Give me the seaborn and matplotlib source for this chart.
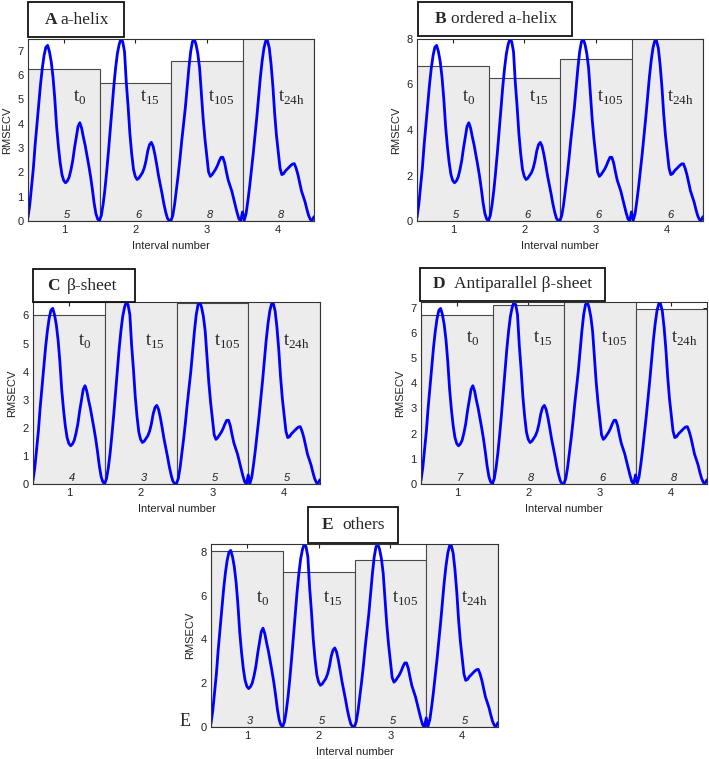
import numpy as np
import pandas as pd
import matplotlib
matplotlib.use("Agg")
import matplotlib.pyplot as plt
import matplotlib.transforms as mtransforms
from matplotlib.patches import Rectangle
import seaborn as sns

# ==============================
# DATA
# ==============================
intervals = [1, 2, 3, 4]
time_labels = [r"$\mathrm{t}_{\mathrm{0}}$", r"$\mathrm{t}_{\mathrm{15}}$",
               r"$\mathrm{t}_{\mathrm{105}}$", r"$\mathrm{t}_{\mathrm{24h}}$"]

# mean spectrum in each interval (fraction of panel top)
dx = np.linspace(0, 1, 41)
shape_t0 = [0.02, 0.09, 0.19, 0.29, 0.42, 0.53, 0.64, 0.75, 0.84, 0.91,
            0.955, 0.965, 0.93, 0.875, 0.79, 0.67, 0.52, 0.41, 0.32, 0.255,
            0.222, 0.21, 0.22, 0.24, 0.28, 0.33, 0.40, 0.46, 0.52, 0.54,
            0.51, 0.46, 0.415, 0.36, 0.305, 0.245, 0.175, 0.098, 0.04, 0.01,
            0.003]
shape_t15 = [0.003, 0.03, 0.09, 0.17, 0.27, 0.38, 0.50, 0.62, 0.74, 0.84,
             0.92, 0.97, 1.0, 0.985, 0.93, 0.76, 0.63, 0.48, 0.37, 0.285,
             0.245, 0.228, 0.235, 0.25, 0.265, 0.29, 0.33, 0.385, 0.42, 0.432,
             0.41, 0.365, 0.31, 0.25, 0.2, 0.15, 0.095, 0.05, 0.015, 0.002,
             0.003]
shape_t105 = [0.003, 0.03, 0.09, 0.17, 0.25, 0.34, 0.44, 0.53, 0.62, 0.73,
              0.84, 0.93, 0.985, 1.0, 0.97, 0.92, 0.84, 0.70, 0.56, 0.45,
              0.36, 0.27, 0.245, 0.255, 0.27, 0.285, 0.305, 0.33, 0.35, 0.35,
              0.32, 0.27, 0.225, 0.195, 0.165, 0.125, 0.085, 0.045, 0.012, 0.0,
              0.05]
shape_t24h = [0.05, 0.005, 0.04, 0.11, 0.19, 0.28, 0.37, 0.47, 0.57, 0.68,
              0.79, 0.88, 0.95, 0.99, 0.99, 0.95, 0.86, 0.74, 0.59, 0.47,
              0.38, 0.29, 0.255, 0.26, 0.275, 0.285, 0.295, 0.305, 0.313, 0.315,
              0.29, 0.255, 0.21, 0.165, 0.135, 0.105, 0.065, 0.03, 0.008, 0.005,
              0.024]
shapes = [shape_t0, shape_t15, shape_t105, shape_t24h]

panel_letters = ["A", "B", "C", "D", "E"]
panel_names = ["a-helix", "ordered a-helix", "\u03b2-sheet",
               "Antiparallel \u03b2-sheet", "others"]
y_top = [7.48, 8.0, 6.48, 7.22, 8.36]
y_step = [1, 2, 1, 1, 2]

rmsecv_A = [6.25, 5.66, 6.58, 7.6]
rmsecv_B = [6.81, 6.27, 7.11, 8.2]
rmsecv_C = [6.0, 6.6, 6.45, 6.6]
rmsecv_D = [6.72, 7.11, 7.4, 6.96]
rmsecv_E = [8.02, 7.06, 7.61, 8.5]
rmsecv = [rmsecv_A, rmsecv_B, rmsecv_C, rmsecv_D, rmsecv_E]

lv_A = [5, 6, 8, 8]
lv_B = [5, 6, 6, 6]
lv_C = [4, 3, 5, 5]
lv_D = [7, 8, 6, 8]
lv_E = [3, 5, 5, 5]
n_lv = [lv_A, lv_B, lv_C, lv_D, lv_E]

# ==============================
# LAYOUT (pixels of the 709x759 picture)
# ==============================
W, H = 709, 759
axes_px = [(28, 39, 314, 221), (417, 39, 703, 221), (33, 302, 320, 484),
           (421, 302, 707, 484), (211, 544, 498, 727)]
title_px = [(28, 2, 124, 37), (418, 2, 572, 36), (33, 269, 135, 302),
            (420, 268, 605, 301), (308, 507, 398, 543)]
title_text_x = [(45, 60), (435, 451), (47, 67), (433, 454), (322, 342)]
t_label_y = [0.675, 0.676, 0.78, 0.80, 0.70]
t_label_dx = [0.63, 0.56, 0.52, 0.49]

sns.set_style("white")
plt.rcParams["font.family"] = ["Liberation Sans", "DejaVu Sans"]
plt.rcParams["mathtext.fontset"] = "custom"
plt.rcParams["mathtext.rm"] = "Liberation Serif"
serif = ["Liberation Serif", "DejaVu Serif"]

fig = plt.figure(figsize=(W / 100, H / 100), dpi=100)

for p in range(5):
    l, t, r, b = axes_px[p]
    ax = fig.add_axes([l / W, 1 - b / H, (r - l) / W, (b - t) / H])

    sns.barplot(x=intervals, y=rmsecv[p], native_scale=True, width=1.0,
                color="#ececec", saturation=1, edgecolor="#484848",
                linewidth=0.8, errorbar=None, ax=ax)

    xs, ys = [], []
    for k, sh in zip(intervals, shapes):
        xs += list(k - 0.5 + dx)
        ys += [v * y_top[p] for v in sh]
    curve = pd.DataFrame({"x": xs, "y": ys})
    sns.lineplot(data=curve, x="x", y="y", estimator=None, sort=False,
                 color="#0000ff", linewidth=2.0, ax=ax)

    ax.set_xlim(0.5, 4.5)
    ax.set_ylim(0, y_top[p])
    ax.set_xticks(intervals)
    ax.set_xticklabels([str(k) for k in intervals])
    ax.set_yticks(np.arange(0, y_top[p] + 0.01, y_step[p]))
    ax.tick_params(direction="in", length=3, top=True, right=True,
                   labelsize=8, pad=3, colors="#222222")
    for s in ax.spines.values():
        s.set_color("#333333")
        s.set_linewidth(0.8)
    ax.set_xlabel("Interval number", fontsize=8, labelpad=4, color="#222222")
    ax.set_ylabel("RMSECV", fontsize=8, labelpad=4, color="#222222")

    trans = mtransforms.blended_transform_factory(ax.transData, ax.transAxes)
    for k, lv, lab, off in zip(intervals, n_lv[p], time_labels, t_label_dx):
        ax.text(k + 0.04, 0.035, str(lv), transform=trans, ha="center",
                va="center", fontsize=8, style="italic", color="#222222")
        ax.text(k - 0.5 + off, t_label_y[p], lab, transform=trans,
                ha="left", va="center", fontsize=13.5)

    # title box
    l, t, r, b = title_px[p]
    fig.add_artist(Rectangle((l / W, 1 - b / H), (r - l) / W, (b - t) / H,
                             transform=fig.transFigure, fill=False,
                             edgecolor="#111111", linewidth=1.3))
    yc = 1 - (t + b) / 2 / H
    lx, nx = title_text_x[p]
    fig.text(lx / W, yc, panel_letters[p], ha="left", va="center",
             fontsize=12.5, fontweight="bold", family=serif)
    fig.text(nx / W, yc, panel_names[p], ha="left", va="center",
             fontsize=12.5, family=serif)

# stray panel letter next to the last plot
fig.text(180 / W, 1 - 722 / H, "E", ha="left", va="center",
         fontsize=13, family=serif)

fig.savefig("out.png", dpi=100)
